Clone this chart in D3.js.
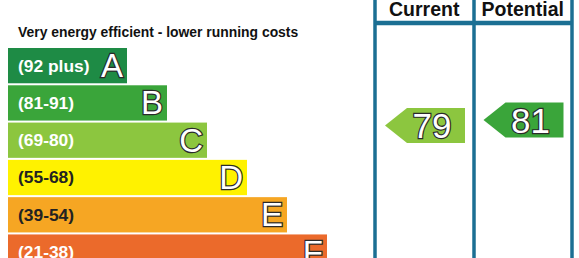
<!DOCTYPE html>
<html>
<head>
<meta charset="utf-8">
<script src="https://cdn.jsdelivr.net/npm/d3@7"></script>
<style>
  body { margin: 0; background: #fff; }
  svg { display: block; font-family: "Liberation Sans", Arial, sans-serif; }
</style>
</head>
<body>
<script>
const bands = ["A", "B", "C", "D", "E", "F", "G"];
const ranges = ["(92 plus)", "(81-91)", "(69-80)", "(55-68)", "(39-54)", "(21-38)", "(1-20)"];
const bandColors = ["#1e8b45", "#3aa53a", "#8cc63f", "#fff200", "#f6a623", "#eb6a2b", "#e31d23"];
const headers = ["Current", "Potential"];
const ratings = [79, 81];
const ratingBands = ["C", "B"];

const width = 579, height = 258;
const LINE = "#1b6f93";

const svg = d3.select("body").append("svg").attr("width", width).attr("height", height);

// band rows
let y = d3.scaleBand().domain(bands).range([48, 48 + 37 * bands.length]).paddingInner(2 / 37);
let xRight = d3.scaleLinear().domain([0, bands.length - 1]).range([127, 367]);
let bandColor = d3.scaleOrdinal().domain(bands).range(bandColors);

svg.append("text")
    .attr("x", 18).attr("y", 37)
    .attr("font-size", 13.9).attr("font-weight", "bold").attr("fill", "#111")
    .text("Very energy efficient - lower running costs");

let row = svg.append("g").selectAll("g").data(bands).join("g")
    .attr("transform", d => `translate(0,${y(d)})`);

row.append("rect")
    .attr("x", 8)
    .attr("width", (d, i) => xRight(i) - 8)
    .attr("height", y.bandwidth())
    .attr("fill", d => bandColor(d));

row.append("text")
    .attr("x", 18).attr("y", y.bandwidth() / 2 + 6)
    .attr("font-size", 17.4).attr("font-weight", "bold").attr("fill", (d, i) => i == 3 || i == 4 ? "#222" : "#fff")
    .text((d, i) => ranges[i]);

row.append("text")
    .attr("x", (d, i) => xRight(i) - 4).attr("y", y.bandwidth() / 2 + 11.5)
    .attr("text-anchor", "end")
    .attr("font-size", 33)
    .attr("fill", "#fff").attr("stroke", "#2a2a2a").attr("stroke-width", 2.4)
    .attr("paint-order", "stroke fill")
    .text(d => d);

// rating columns
let cols = d3.scaleBand().domain(headers).range([375, 572]);
let ry = d3.scaleLinear().domain([79, 81]).range([125.5, 120]);

svg.append("g").selectAll("line").data([375, 474, 572]).join("line")
    .attr("x1", d => d).attr("x2", d => d).attr("y1", 0).attr("y2", height)
    .attr("stroke", LINE).attr("stroke-width", 3.5);
svg.append("line")
    .attr("x1", 375).attr("x2", 572).attr("y1", 23).attr("y2", 23)
    .attr("stroke", LINE).attr("stroke-width", 4.5);

svg.append("g").selectAll("text").data(headers).join("text")
    .attr("x", d => cols(d) + cols.bandwidth() / 2)
    .attr("y", 16)
    .attr("text-anchor", "middle")
    .attr("font-size", 19.5).attr("font-weight", "bold").attr("fill", "#111")
    .text(d => d);

let arrowH = 35, tip = 22;
let arrows = svg.append("g").selectAll("g").data(ratings).join("g")
    .attr("transform", (d, i) => `translate(${cols(headers[i]) + 10},${ry(d)})`);

arrows.append("path")
    .attr("d", `M0,0 L${tip},${-arrowH / 2} L80,${-arrowH / 2} L80,${arrowH / 2} L${tip},${arrowH / 2} Z`)
    .attr("fill", (d, i) => bandColor(ratingBands[i]));

arrows.append("text")
    .attr("x", 47).attr("y", 12.5)
    .attr("text-anchor", "middle")
    .attr("font-size", 35)
    .attr("fill", "#fff").attr("stroke", "#2a2a2a").attr("stroke-width", 2.4)
    .attr("paint-order", "stroke fill")
    .text(d => d);
</script>
</body>
</html>
